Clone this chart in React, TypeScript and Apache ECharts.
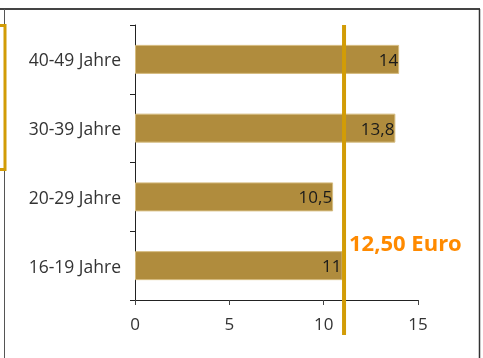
import { useEffect, useRef } from "react";
import * as echarts from "echarts";

// Average hourly pay by age group (Euro)
const categories = ["16-19 Jahre", "20-29 Jahre", "30-39 Jahre", "40-49 Jahre"];
const values = [11, 10.5, 13.8, 14];
const xMin = 0;
const xMax = 15;
const xStep = 5;

// Reference marker drawn across the plot
const markerValue = 11.08;
const markerLabel = "12,50 Euro";

const FONT = "'Open Sans', 'Noto Sans', sans-serif";
const GOLD = "#D29C06";

export default function App() {
  const ref = useRef<HTMLDivElement>(null);

  useEffect(() => {
    if (!ref.current) return;
    const chart = echarts.init(ref.current, null, { renderer: "svg" });

    chart.setOption({
      animation: false,
      grid: { left: 135, right: 65, top: 25, bottom: 58 },
      xAxis: {
        type: "value",
        min: xMin,
        max: xMax,
        interval: xStep,
        splitLine: { show: false },
        axisLine: { show: true, lineStyle: { color: "#222", width: 1 } },
        axisTick: { show: true, length: 5, lineStyle: { color: "#444" } },
        axisLabel: {
          margin: 15,
          fontSize: 17,
          fontFamily: FONT,
          color: "#333",
        },
      },
      yAxis: {
        type: "category",
        data: categories,
        axisLine: { show: true, lineStyle: { color: "#222", width: 1 } },
        axisTick: { show: true, length: 5, lineStyle: { color: "#222" } },
        axisLabel: {
          margin: 14,
          fontSize: 17.5,
          fontFamily: FONT,
          color: "#333",
        },
      },
      series: [
        {
          type: "bar",
          data: values,
          barWidth: 29,
          itemStyle: {
            color: "#B08C3D",
            borderColor: "#D6BC80",
            borderWidth: 1,
          },
          label: {
            show: true,
            position: "insideRight",
            distance: 1,
            fontSize: 17,
            fontFamily: FONT,
            color: "#1a1a1a",
            formatter: (p: any) => String(p.value).replace(".", ","),
          },
        },
      ],
    });

    const markerX = chart.convertToPixel({ xAxisIndex: 0 }, markerValue) as number;

    chart.setOption({
      graphic: [
        // slide frame
        {
          type: "line",
          z: 50,
          shape: { x1: 0, y1: 9, x2: 480, y2: 9 },
          style: { stroke: "#444", lineWidth: 2 },
        },
        {
          type: "line",
          z: 50,
          shape: { x1: 4.5, y1: 9, x2: 4.5, y2: 358 },
          style: { stroke: "#555", lineWidth: 1 },
        },
        {
          type: "line",
          z: 50,
          shape: { x1: 479.5, y1: 9, x2: 479.5, y2: 358 },
          style: { stroke: "#333", lineWidth: 1.5 },
        },
        {
          type: "rect",
          z: 51,
          shape: { x: -20, y: 25.5, width: 25, height: 144 },
          style: { fill: "none", stroke: GOLD, lineWidth: 3 },
        },
        // marker line and its caption
        {
          type: "line",
          z: 100,
          shape: { x1: markerX, y1: 25, x2: markerX, y2: 335 },
          style: { stroke: GOLD, lineWidth: 4 },
        },
        {
          type: "text",
          z: 100,
          x: markerX + 5,
          y: 242,
          style: {
            text: markerLabel,
            fill: "#FF8A00",
            font: `bold 22px ${FONT}`,
            textAlign: "left",
            textVerticalAlign: "middle",
          },
        },
      ],
    });

    return () => chart.dispose();
  }, []);

  return (
    <div
      ref={ref}
      style={{ position: "fixed", left: 0, top: 0, width: 483, height: 358 }}
    />
  );
}
